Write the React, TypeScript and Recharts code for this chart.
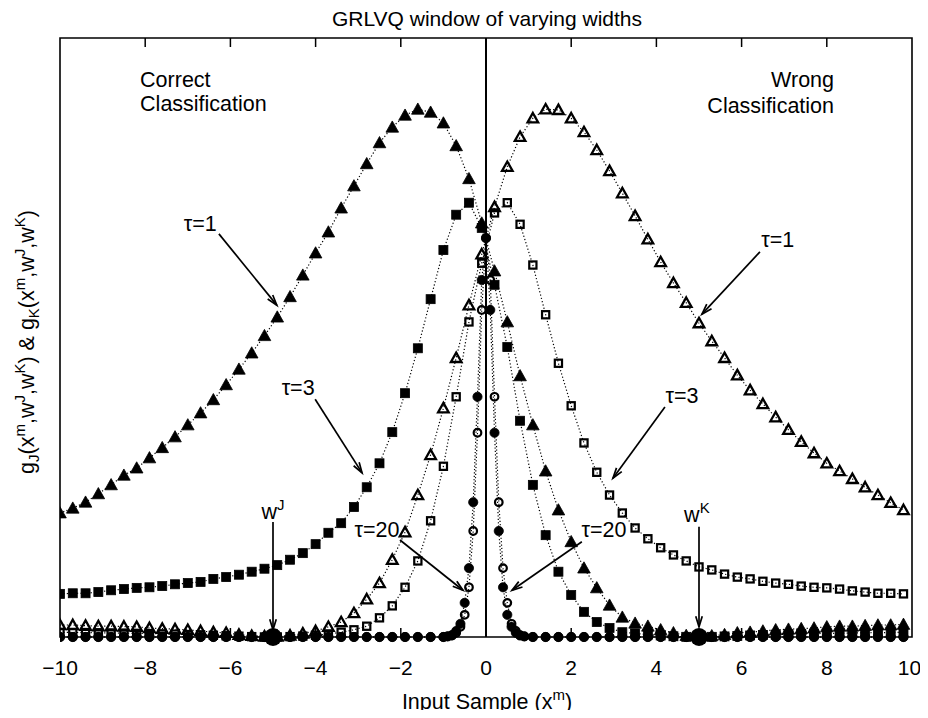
import React from "react";
import {
  ComposedChart,
  Scatter,
  XAxis,
  YAxis,
  ReferenceLine,
  ReferenceArea,
  ReferenceDot,
} from "recharts";

// sample positions (coarse grid for triangles/squares, finer near 0 for tau=20)
const X_GRID = [
  -10, -9.7, -9.4, -9.1, -8.8, -8.5, -8.2, -7.9, -7.6, -7.3, -7, -6.7, -6.4, -6.1, -5.8, -5.5,
  -5.2, -4.9, -4.6, -4.3, -4, -3.7, -3.4, -3.1, -2.8, -2.5, -2.2, -1.9, -1.6, -1.3, -1, -0.7,
  -0.4, -0.1, 0.2, 0.5, 0.8, 1.1, 1.4, 1.7, 2, 2.3, 2.6, 2.9, 3.2, 3.5, 3.8, 4.1, 4.4, 4.7, 5,
  5.3, 5.6, 5.9, 6.2, 6.5, 6.8, 7.1, 7.4, 7.7, 8, 8.3, 8.6, 8.9, 9.2, 9.5, 9.8,
];
const X_FINE = [
  -10, -9.7, -9.4, -9.1, -8.8, -8.5, -8.2, -7.9, -7.6, -7.3, -7, -6.7, -6.4, -6.1, -5.8, -5.5,
  -5.2, -4.9, -4.6, -4.3, -4, -3.7, -3.4, -3.1, -2.8, -2.5, -2.2, -1.9, -1.6, -1.3, -1,
  -0.9, -0.8, -0.7, -0.6, -0.5, -0.4, -0.3, -0.2, -0.1, 0, 0.1, 0.2, 0.3, 0.4, 0.5, 0.6, 0.7,
  0.8, 0.9, 1.1, 1.4, 1.7, 2, 2.3, 2.6, 2.9, 3.2, 3.5, 3.8, 4.1, 4.4, 4.7, 5, 5.3, 5.6, 5.9,
  6.2, 6.5, 6.8, 7.1, 7.4, 7.7, 8, 8.3, 8.6, 8.9, 9.2, 9.5, 9.8,
];

// tau = 1 (triangles), filled = g_J, open = g_K
const TAU1_J = [
  20.7, 21.5, 22.5, 23.9, 25.4, 27.0, 28.2, 29.9, 31.6, 33.4, 35.4, 37.4, 39.6, 42.1, 44.7, 47.4,
  50.3, 53.4, 56.8, 60.4, 64.1, 67.6, 71.6, 75.3, 79.0, 82.5, 85.1, 87.1, 88.1, 87.6, 85.8, 82.0,
  76.5, 69.1, 61.1, 52.6, 43.6, 35.4, 27.7, 21.2, 15.9, 11.5, 8.2, 5.3, 3.3, 2.3, 1.8, 1.2, 0.7,
  0.25, 0.0, 0.2, 0.4, 0.7, 0.8, 1.0, 1.2, 1.3, 1.4, 1.5, 1.7, 1.8, 1.8, 1.9, 2.0, 2.0, 2.1,
];
const TAU1_K = [
  2.0, 2.0, 1.9, 1.8, 1.8, 1.75, 1.7, 1.5, 1.4, 1.3, 1.2, 1.0, 0.8, 0.7, 0.4, 0.2, 0.1, 0.1,
  0.25, 0.6, 1.0, 1.7, 2.5, 4.0, 6.3, 9.0, 12.9, 17.5, 23.7, 30.4, 38.2, 46.6, 55.4, 63.9, 71.8,
  78.5, 83.5, 86.6, 88.1, 88.0, 86.6, 84.3, 81.3, 77.8, 74.1, 70.3, 66.4, 62.6, 59.1, 55.8, 52.4,
  49.4, 46.6, 43.7, 41.2, 38.9, 36.7, 34.6, 32.6, 30.7, 29.0, 27.7, 26.4, 25.0, 23.7, 22.4, 21.2,
];

// tau = 3 (squares)
const TAU3_J = [
  7.2, 7.3, 7.3, 7.5, 7.8, 8.0, 8.2, 8.3, 8.5, 8.8, 9.0, 9.2, 9.7, 10.0, 10.4, 10.9, 11.4, 12.0,
  12.9, 14.0, 15.5, 17.4, 19.0, 21.7, 25.0, 29.0, 34.2, 40.7, 48.2, 56.4, 64.6, 70.5, 72.5, 68.3,
  58.8, 48.4, 36.1, 25.4, 17.0, 10.9, 7.0, 4.2, 2.5, 1.5, 0.8, 0.6, 0.4, 0.25, 0.12, 0.03, 0.0,
  0.03, 0.1, 0.18, 0.26, 0.33, 0.4, 0.46, 0.51, 0.56, 0.6, 0.64, 0.67, 0.7, 0.73, 0.75, 0.77,
];
const TAU3_K = [
  0.78, 0.76, 0.74, 0.71, 0.68, 0.65, 0.61, 0.57, 0.53, 0.48, 0.42, 0.36, 0.29, 0.21, 0.13, 0.06,
  0.01, 0.01, 0.06, 0.15, 0.3, 0.5, 0.8, 1.2, 1.8, 3.2, 5.2, 8.3, 12.7, 19.4, 28.5, 40.1, 52.6,
  62.4, 70.8, 72.5, 68.9, 62.1, 53.8, 45.7, 38.6, 32.4, 27.5, 23.7, 20.7, 18.2, 16.4, 14.9, 13.7,
  12.7, 11.7, 11.2, 10.5, 10.0, 9.7, 9.3, 9.0, 8.8, 8.5, 8.3, 8.2, 8.0, 7.7, 7.5, 7.3, 7.3, 7.2,
];

// tau = 20 (circles), on X_FINE
const TAU20_J = [
  0, 0, 0, 0, 0, 0, 0, 0, 0, 0, 0, 0, 0, 0, 0, 0, 0, 0, 0, 0, 0, 0, 0, 0, 0, 0, 0, 0, 0, 0, 0,
  0.1, 0.3, 1.0, 2.2, 5.7, 11.5, 22.5, 40.1, 59.6, 66.6, 54.6, 34.1, 17.7, 8.3, 3.7, 1.7, 0.7,
  0.25, 0.1,
  0, 0, 0, 0, 0, 0, 0, 0, 0, 0, 0, 0, 0, 0, 0, 0, 0, 0, 0, 0, 0, 0, 0, 0, 0, 0, 0, 0, 0, 0,
];
const TAU20_K = [
  0, 0, 0, 0, 0, 0, 0, 0, 0, 0, 0, 0, 0, 0, 0, 0, 0, 0, 0, 0, 0, 0, 0, 0, 0, 0, 0, 0, 0, 0, 0,
  0.1, 0.25, 0.7, 1.7, 3.7, 8.3, 17.7, 34.1, 54.6, 66.6, 59.6, 40.1, 22.5, 11.5, 5.7, 2.2, 1.0,
  0.3, 0.1,
  0, 0, 0, 0, 0, 0, 0, 0, 0, 0, 0, 0, 0, 0, 0, 0, 0, 0, 0, 0, 0, 0, 0, 0, 0, 0, 0, 0, 0, 0,
];

// prototypes w^J, w^K
const PROTO_X = [-5, 5];
const PROTO_Y = [0, 0];

const X_TICKS = [-10, -8, -6, -4, -2, 0, 2, 4, 6, 8, 10];

const FONT = '"Liberation Sans", Arial, Helvetica, sans-serif';
const FS = 21;
const FS_NOTE = 21.5;
const DOTTED = { stroke: "#000", strokeWidth: 1.2, strokeDasharray: "1.2 2.2" };

const zip = (xs: number[], ys: number[]) => xs.map((x, i) => ({ x, y: ys[i] }));

type Kind = "tri" | "sq" | "circ" | "big";

const marker = (kind: Kind, filled: boolean) => (p: any) => {
  const { cx, cy } = p;
  if (cx == null || cy == null) return <g />;
  if (kind === "tri") {
    const s = filled ? 6.3 : 5.3;
    return (
      <path
        d={`M${cx},${cy - s} L${cx + s},${cy + s * 0.78} L${cx - s},${cy + s * 0.78} Z`}
        fill={filled ? "#000" : "none"}
        stroke="#000"
        strokeWidth={filled ? 0.8 : 2.3}
      />
    );
  }
  if (kind === "sq") {
    const s = filled ? 4.5 : 3.6;
    return (
      <rect
        x={cx - s}
        y={cy - s}
        width={2 * s}
        height={2 * s}
        fill={filled ? "#000" : "none"}
        stroke="#000"
        strokeWidth={filled ? 0.8 : 2.2}
      />
    );
  }
  if (kind === "big") return <circle cx={cx} cy={cy} r={9} fill="#000" />;
  return (
    <circle
      cx={cx}
      cy={cy}
      r={filled ? 4.6 : 3.8}
      fill={filled ? "#000" : "none"}
      stroke="#000"
      strokeWidth={filled ? 0.8 : 2.2}
    />
  );
};

// annotation texts, in data coordinates
const textAt = (content: React.ReactNode, anchor: "start" | "middle" | "end") => (p: any) => (
  <text
    x={p.cx}
    y={p.cy + 7.5}
    textAnchor={anchor}
    fontFamily={FONT}
    fontSize={FS_NOTE}
    fill="#000"
  >
    {content}
  </text>
);

const sup = (s: string) => [
  <tspan key="a" dy={-9} fontSize={15}>
    {s}
  </tspan>,
];

const ARROWS = [
  { x1: -6.27, y1: 67.3, x2: -4.91, y2: 55.4 },
  { x1: 6.43, y1: 64.3, x2: 5.07, y2: 53.9 },
  { x1: -4.01, y1: 39.7, x2: -2.91, y2: 27.4 },
  { x1: 4.2, y1: 38.4, x2: 2.98, y2: 26.5 },
  { x1: -2.02, y1: 16.2, x2: -0.54, y2: 7.8 },
  { x1: 2.25, y1: 15.9, x2: 0.61, y2: 7.8 },
  { x1: -5, y1: 19.2, x2: -5, y2: 1.2 },
  { x1: 5, y1: 18.4, x2: 5, y2: 1.7 },
];

const arrowShape = (p: any) => {
  const { x1, y1, x2, y2 } = p;
  if (x1 == null) return <g />;
  const a = Math.atan2(y2 - y1, x2 - x1);
  const L = 11;
  const spread = 0.3;
  const h1x = x2 - L * Math.cos(a - spread);
  const h1y = y2 - L * Math.sin(a - spread);
  const h2x = x2 - L * Math.cos(a + spread);
  const h2y = y2 - L * Math.sin(a + spread);
  return (
    <g>
      <line x1={x1} y1={y1} x2={x2} y2={y2} stroke="#000" strokeWidth={1.7} />
      <path
        d={`M${h1x},${h1y} L${x2},${y2} L${h2x},${h2y}`}
        fill="none"
        stroke="#000"
        strokeWidth={1.7}
      />
    </g>
  );
};

const fmtTick = (v: number) => (v < 0 ? `\u2212${Math.abs(v)}` : `${v}`);

export default function App() {
  const W = 912;
  const H = 702;
  return (
    <div style={{ position: "relative", width: W, height: H }}>
      <ComposedChart
        width={W}
        height={H}
        margin={{ top: 30, right: 8, bottom: 33, left: 52 }}
      >
        <XAxis
          type="number"
          dataKey="x"
          domain={[-10, 10]}
          ticks={X_TICKS}
          tickFormatter={fmtTick}
          axisLine={false}
          tickLine={false}
          tickSize={6}
          tickMargin={17}
          height={40}
          allowDataOverflow
          tick={{ fill: "#000", fontSize: FS, fontFamily: FONT }}
        />
        <YAxis type="number" dataKey="y" domain={[0, 100]} hide />

        <ReferenceArea x1={-10} x2={10} y1={0} y2={100} fill="none" stroke="#000" strokeWidth={1.6} />
        {X_TICKS.slice(1, -1).map((t) => (
          <ReferenceLine
            key={`tt${t}`}
            segment={[
              { x: t, y: 100 },
              { x: t, y: 98.5 },
            ]}
            stroke="#000"
            strokeWidth={1.5}
          />
        ))}
        {X_TICKS.slice(1, -1).map((t) => (
          <ReferenceLine
            key={`tb${t}`}
            segment={[
              { x: t, y: 0 },
              { x: t, y: 1.5 },
            ]}
            stroke="#000"
            strokeWidth={1.5}
          />
        ))}
        <ReferenceLine x={0} stroke="#000" strokeWidth={2} />

        <Scatter data={zip(X_GRID, TAU3_K)} line={DOTTED} shape={marker("sq", false)} isAnimationActive={false} />
        <Scatter data={zip(X_GRID, TAU3_J)} line={DOTTED} shape={marker("sq", true)} isAnimationActive={false} />
        <Scatter data={zip(X_GRID, TAU1_K)} line={DOTTED} shape={marker("tri", false)} isAnimationActive={false} />
        <Scatter data={zip(X_GRID, TAU1_J)} line={DOTTED} shape={marker("tri", true)} isAnimationActive={false} />
        <Scatter data={zip(X_FINE, TAU20_K)} line={DOTTED} shape={marker("circ", false)} isAnimationActive={false} />
        <Scatter data={zip(X_FINE, TAU20_J)} line={DOTTED} shape={marker("circ", true)} isAnimationActive={false} />
        <Scatter data={zip(PROTO_X, PROTO_Y)} shape={marker("big", true)} isAnimationActive={false} />

        {ARROWS.map((a, i) => (
          <ReferenceLine
            key={`ar${i}`}
            segment={[
              { x: a.x1, y: a.y1 },
              { x: a.x2, y: a.y2 },
            ]}
            shape={arrowShape}
          />
        ))}

        <ReferenceDot x={-8.12} y={93.0} r={0} shape={textAt("Correct", "start")} />
        <ReferenceDot x={-8.12} y={89.1} r={0} shape={textAt("Classification", "start")} />
        <ReferenceDot x={8.17} y={93.0} r={0} shape={textAt("Wrong", "end")} />
        <ReferenceDot x={8.17} y={88.8} r={0} shape={textAt("Classification", "end")} />
        <ReferenceDot x={-6.71} y={69.1} r={0} shape={textAt("\u03c4=1", "middle")} />
        <ReferenceDot x={6.85} y={66.3} r={0} shape={textAt("\u03c4=1", "middle")} />
        <ReferenceDot x={-4.41} y={41.6} r={0} shape={textAt("\u03c4=3", "middle")} />
        <ReferenceDot x={4.6} y={40.4} r={0} shape={textAt("\u03c4=3", "middle")} />
        <ReferenceDot x={-2.56} y={18.0} r={0} shape={textAt("\u03c4=20", "middle")} />
        <ReferenceDot x={2.77} y={18.0} r={0} shape={textAt("\u03c4=20", "middle")} />
        <ReferenceDot x={-5.0} y={21.0} r={0} shape={textAt(["w", ...sup("J")], "middle")} />
        <ReferenceDot x={4.95} y={20.4} r={0} shape={textAt(["w", ...sup("K")], "middle")} />
      </ComposedChart>

      <svg
        width={W}
        height={H + 8}
        style={{ position: "absolute", left: 0, top: 0, overflow: "visible", pointerEvents: "none" }}
      >
        <text x={479} y={18} textAnchor="middle" fontFamily={FONT} fontSize={FS} fill="#000">
          GRLVQ window of varying widths
        </text>
        <text x={479} y={701} textAnchor="middle" fontFamily={FONT} fontSize={FS_NOTE} fill="#000">
          Input Sample (x
          <tspan dy={-9} fontSize={15}>
            m
          </tspan>
          <tspan dy={9}>)</tspan>
        </text>
        <text
          x={0}
          y={0}
          transform="translate(26,334) rotate(-90)"
          textAnchor="middle"
          fontFamily={FONT}
          fontSize={FS_NOTE}
          fill="#000"
        >
          g<tspan dy={5} fontSize={15}>J</tspan>
          <tspan dy={-5}>(x</tspan>
          <tspan dy={-9} fontSize={15}>m</tspan>
          <tspan dy={9}>,w</tspan>
          <tspan dy={-9} fontSize={15}>J</tspan>
          <tspan dy={9}>,w</tspan>
          <tspan dy={-9} fontSize={15}>K</tspan>
          <tspan dy={9}>) &amp; g</tspan>
          <tspan dy={5} fontSize={15}>K</tspan>
          <tspan dy={-5}>(x</tspan>
          <tspan dy={-9} fontSize={15}>m</tspan>
          <tspan dy={9}>,w</tspan>
          <tspan dy={-9} fontSize={15}>J</tspan>
          <tspan dy={9}>,w</tspan>
          <tspan dy={-9} fontSize={15}>K</tspan>
          <tspan dy={9}>)</tspan>
        </text>
      </svg>
    </div>
  );
}
